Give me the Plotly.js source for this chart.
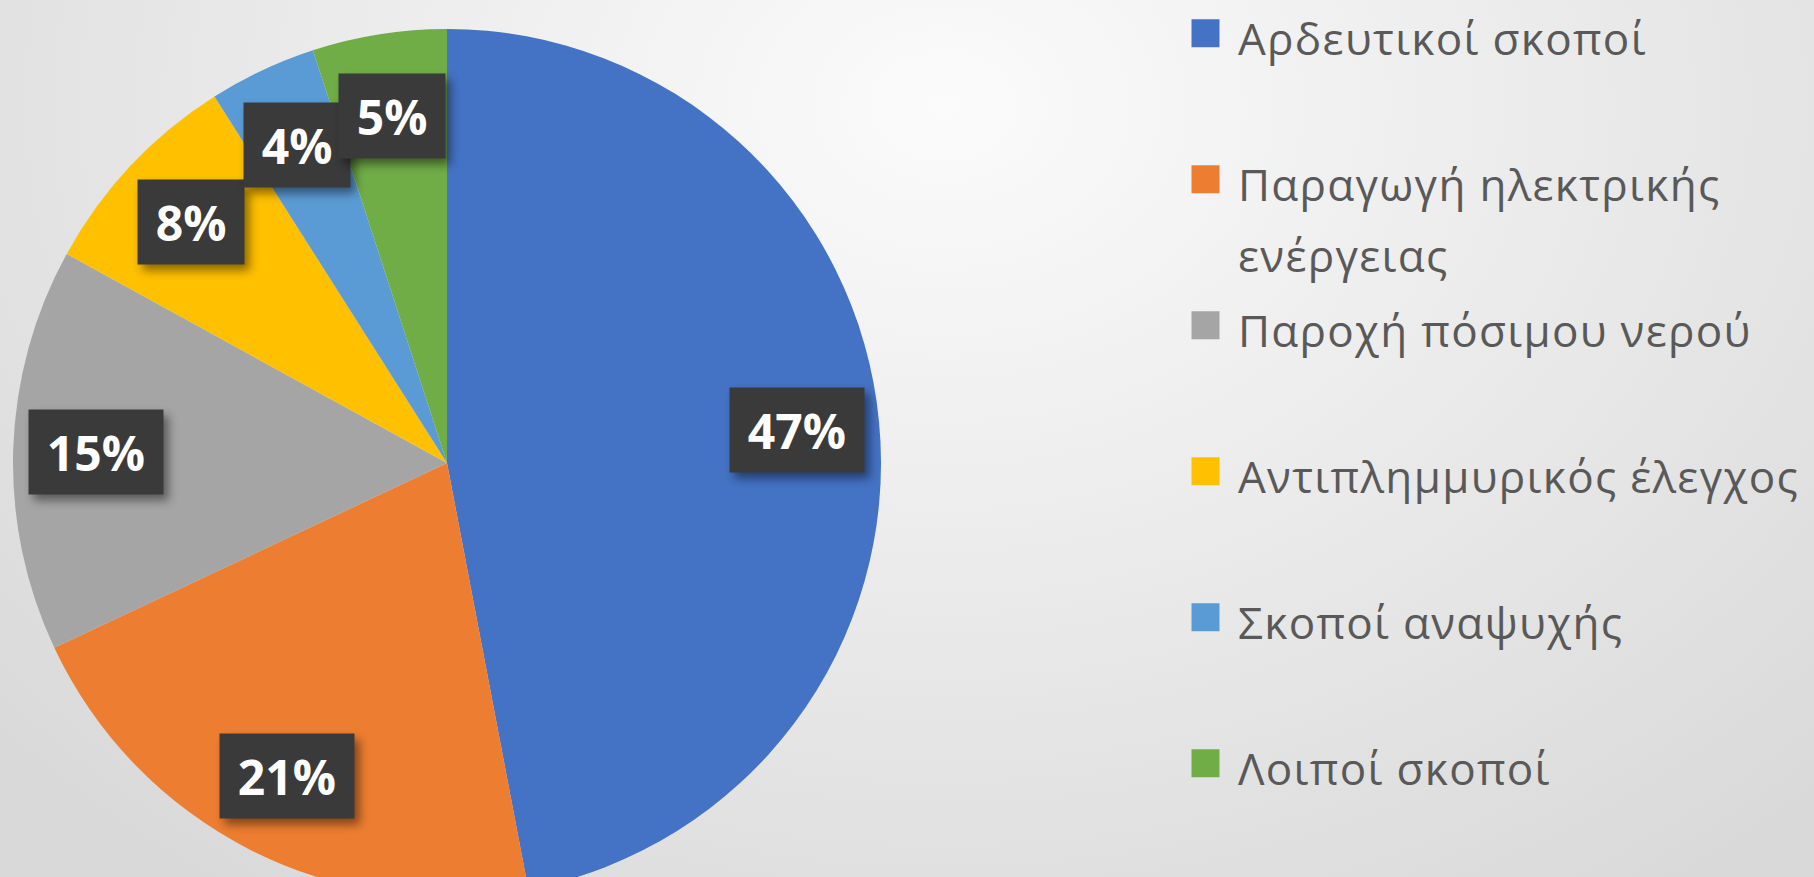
<!DOCTYPE html>
<html>
<head>
<meta charset="utf-8">
<script src="https://cdn.plot.ly/plotly-3.0.1.min.js"></script>
<style>
  html, body { margin: 0; padding: 0; overflow: hidden; }
  #wrap {
    width: 1814px; height: 877px; overflow: hidden; position: relative;
    background: radial-gradient(ellipse 70% 110% at 52% 12%, #fbfbfb 0%, #ececec 45%, #d9d9d9 100%);
  }
  #chart { width: 1814px; height: 909px; position: absolute; left: 0; top: -9px; }
</style>
</head>
<body>
<div id="wrap"><div id="chart"></div></div>
<script>
// ---- data ----
const categories = [
  'Αρδευτικοί σκοποί',
  'Παραγωγή ηλεκτρικής<br>ενέργειας',
  'Παροχή πόσιμου νερού',
  'Αντιπλημμυρικός έλεγχος',
  'Σκοποί αναψυχής',
  'Λοιποί σκοποί'
];
const values = [47, 21, 15, 8, 4, 5];
const colors = ['#4472C4', '#ED7D31', '#A5A5A5', '#FFC000', '#5B9BD5', '#70AD47'];

// ---- layout constants ----
const W = 1814, H = 909;
const pieDomain = { x: [13 / W, 881 / W], y: [3 / H, 871 / H] };
const LEG_FONT = 55;         // controls legend line height / item spacing
const LEG_TEXT_SIZE = 44;    // visible legend text size
const LABEL_R = 0.81;        // radial position of percentage labels

// legend labels: each entry padded to two lines for even spacing
const legendLabels = categories.map(c => {
  const parts = c.split('<br>');
  const lines = parts.map(s => '<span style="font-size:' + LEG_TEXT_SIZE + 'px;letter-spacing:1.3px">' + s + '</span>');
  for (let i = parts.length; i < 2; i++) lines.push('\u00a0');
  return lines.join('<br>');
});

const total = values.reduce((a, b) => a + b, 0);

// percentage labels placed at slice mid-angles (clockwise from 12 o'clock)
const cxPx = (pieDomain.x[0] + pieDomain.x[1]) / 2 * W;
const cyPx = (1 - (pieDomain.y[0] + pieDomain.y[1]) / 2) * H;
const R = Math.min((pieDomain.x[1] - pieDomain.x[0]) * W, (pieDomain.y[1] - pieDomain.y[0]) * H) / 2;
let cum = 0;
const annotations = values.map((v, i) => {
  const mid = (cum + v / 2) / total * 2 * Math.PI;
  cum += v;
  const px = cxPx + LABEL_R * R * Math.sin(mid);
  const py = cyPx - LABEL_R * R * Math.cos(mid);
  return {
    xref: 'paper', yref: 'paper',
    x: px / W, y: 1 - py / H,
    xanchor: 'center', yanchor: 'middle',
    text: '\u200A' + Math.round(v / total * 100) + '%\u200A',
    showarrow: false,
    font: { family: 'Open Sans, Noto Sans, sans-serif', size: 48, color: '#ffffff', weight: 700 },
    bgcolor: '#3a3a3a',
    borderpad: 13,
    height: 58
  };
});

const trace = {
  type: 'pie',
  labels: legendLabels,
  values: values,
  marker: { colors: colors, line: { width: 0 } },
  sort: false,
  direction: 'clockwise',
  rotation: 0,
  textinfo: 'none',
  hoverinfo: 'percent',
  domain: pieDomain
};

const layout = {
  width: W, height: H,
  margin: { l: 0, r: 0, t: 0, b: 0 },
  paper_bgcolor: 'rgba(0,0,0,0)',
  plot_bgcolor: 'rgba(0,0,0,0)',
  showlegend: true,
  legend: {
    x: 1173 / W, xanchor: 'left',
    y: 1, yanchor: 'top',
    valign: 'top',
    itemwidth: 55,
    bgcolor: 'rgba(0,0,0,0)',
    font: { family: 'Open Sans, Noto Sans, sans-serif', size: LEG_FONT, color: '#595959' }
  },
  annotations: annotations
};

Plotly.newPlot('chart', [trace], layout, { staticPlot: true, displayModeBar: false }).then(() => {
  document.querySelectorAll('path.legendpie').forEach(p => {
    p.setAttribute('d', 'M14,14H-14V-14H14Z');
    p.style.strokeWidth = '0';
  });
  document.querySelectorAll('g.annotation rect.bg').forEach(r => {
    r.style.filter = 'drop-shadow(5px 6px 5px rgba(0,0,0,0.45))';
  });
});
</script>
</body>
</html>
